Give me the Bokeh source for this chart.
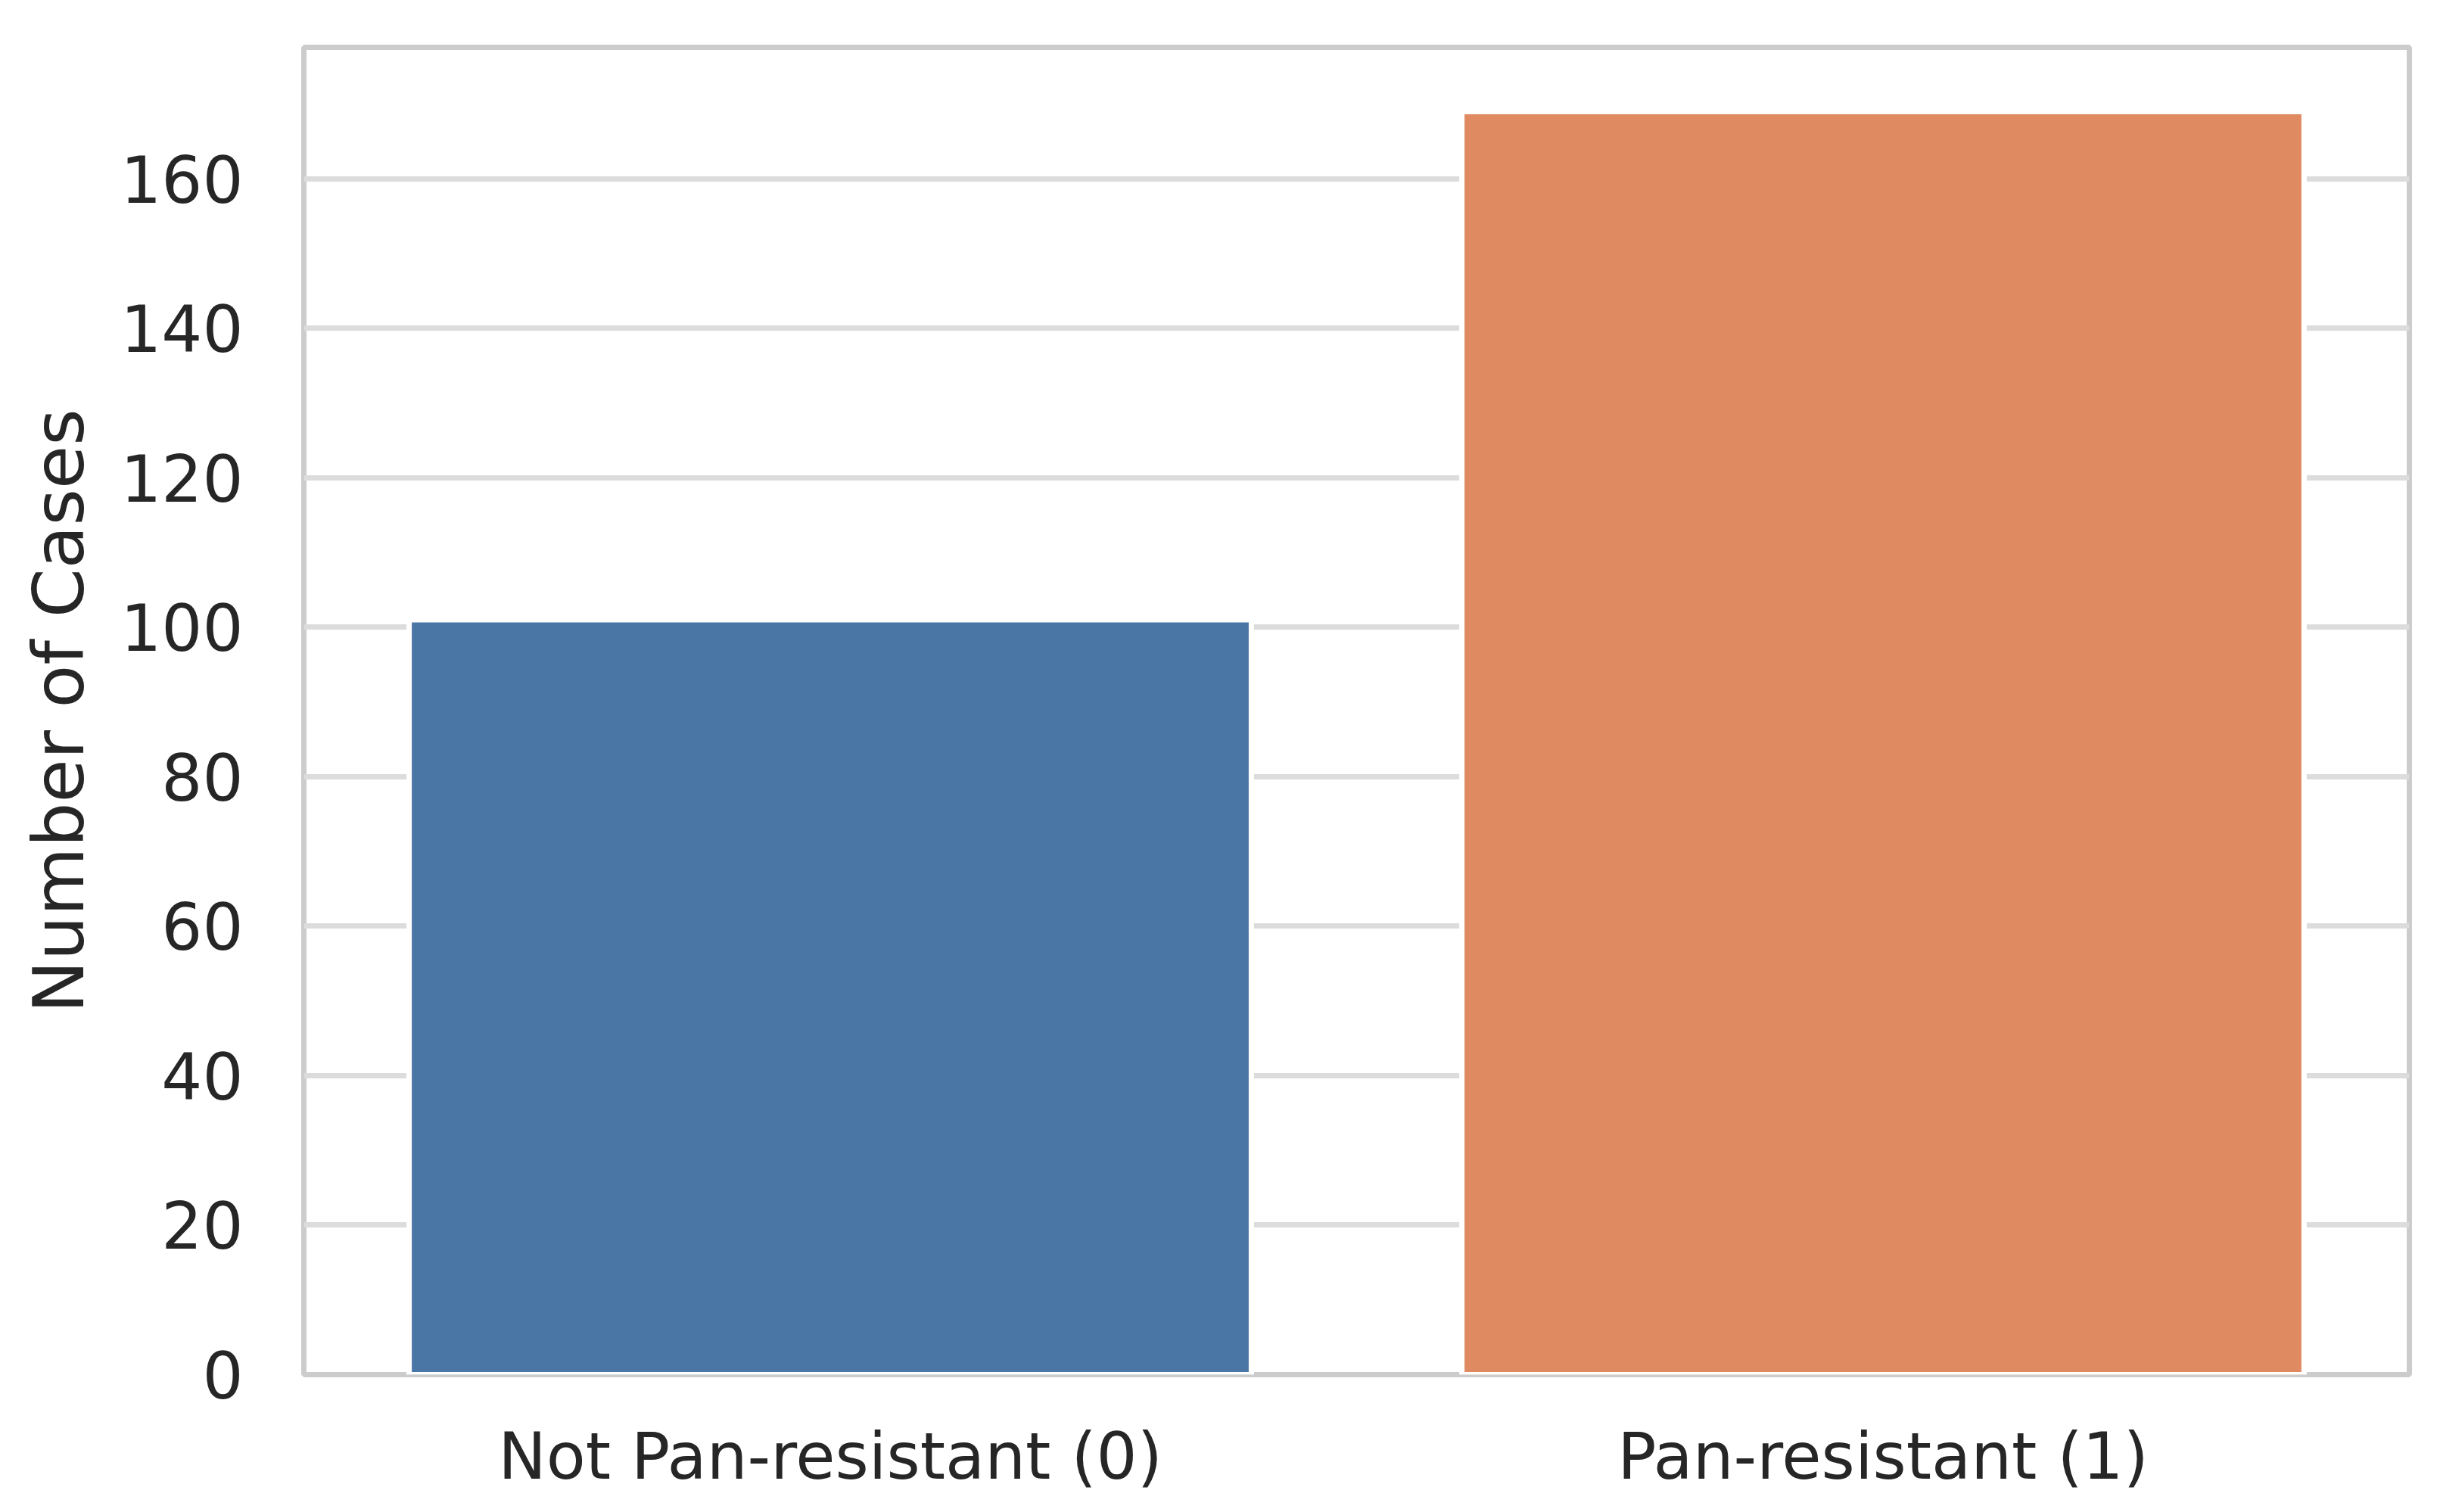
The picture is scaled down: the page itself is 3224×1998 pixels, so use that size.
from bokeh.plotting import figure
from bokeh.models import ColumnDataSource, FactorRange, Range1d, FixedTicker
from bokeh.embed import file_html
from bokeh.resources import INLINE

categories = ["Not Pan-resistant (0)", "Pan-resistant (1)"]
counts = [101, 169]
colors = ["#4a76a6", "#e08a62"]
y_ticks = [0, 20, 40, 60, 80, 100, 120, 140, 160]

src = ColumnDataSource(dict(cat=categories, count=counts, color=colors))

W, H = 3208, 1982
p = figure(x_range=FactorRange(*categories, range_padding=0),
           y_range=Range1d(0, 177.6),
           width=W, height=H, output_backend="svg", toolbar_location=None,
           min_border_left=401, min_border_right=25,
           min_border_top=62, min_border_bottom=166)

p.vbar(x="cat", top="count", width=0.8, source=src, fill_color="color",
       line_color="white", line_width=7)

p.background_fill_color = "white"
p.border_fill_color = "white"
p.outline_line_color = "#cccccc"
p.outline_line_width = 7

p.xgrid.grid_line_color = None
p.ygrid.grid_line_color = "#dcdcdc"
p.ygrid.grid_line_width = 7
p.ygrid.ticker = FixedTicker(ticks=y_ticks)

p.yaxis.ticker = FixedTicker(ticks=y_ticks)
p.yaxis.axis_label = "Number of Cases"

for ax in (p.xaxis[0], p.yaxis[0]):
    ax.axis_line_color = None
    ax.major_tick_line_color = None
    ax.minor_tick_line_color = None
    ax.major_tick_out = 0
    ax.major_tick_in = 0
    ax.minor_tick_out = 0
    ax.major_label_text_font = "DejaVu Sans"
    ax.major_label_text_font_size = "85px"
    ax.major_label_text_color = "#262626"
    ax.axis_label_text_font = "DejaVu Sans"
    ax.axis_label_text_font_size = "93px"
    ax.axis_label_text_font_style = "normal"
    ax.axis_label_text_color = "#262626"

p.xaxis.major_label_standoff = 58
p.yaxis.major_label_standoff = 80
p.yaxis.axis_label_standoff = 24

open("out.html", "w").write(file_html(p, INLINE))
